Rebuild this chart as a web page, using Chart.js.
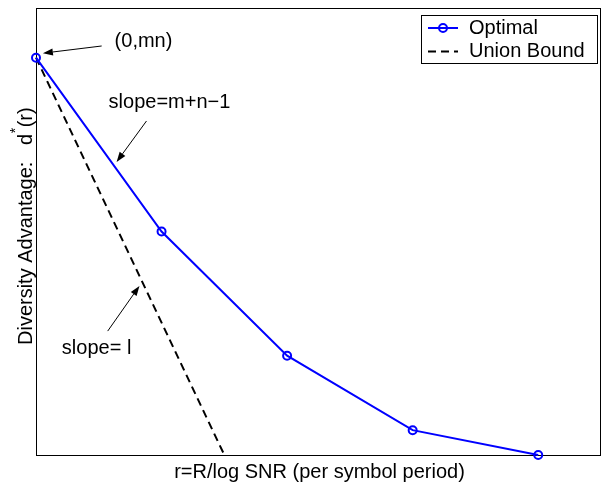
<!DOCTYPE html>
<html>
<head>
<meta charset="utf-8">
<script src="https://cdn.jsdelivr.net/npm/chart.js@4"></script>
<style>
  html, body { margin: 0; padding: 0; background: #fff; }
  canvas { display: block; }
</style>
</head>
<body>
<canvas id="c" width="607" height="483"></canvas>
<script>
// ---- data ----
const rValues = [0, 1, 2, 3, 4];
const optimalValues = [16, 9, 4, 1, 0];
const unionR = [0, 1.5];
const unionValues = [16, 0];
const seriesNames = ['Optimal', 'Union Bound'];
const xTitle = 'r=R/log SNR (per symbol period)';
const yTitleMain = 'Diversity Advantage:   d';
const yTitleSup = '*';
const yTitleTail = '(r)';
// annotation texts at data coords [x, y, text]
const noteTexts = [
  [0.626, 16.43, '(0,mn)'],
  [0.578, 13.97, 'slope=m+n\u22121'],
  [0.206, 4.07, 'slope= l']
];
// arrows in data coords [x0, y0, x1(head), y1(head)]
const noteArrows = [
  [0.523, 16.47, 0.055, 16.18],
  [0.880, 13.45, 0.642, 11.80],
  [0.571, 4.99, 0.824, 6.81]
];

const FONT = '"Liberation Sans", Arial, Helvetica, sans-serif';

function arrow(ctx, x0, y0, x1, y1) {
  const ang = Math.atan2(y1 - y0, x1 - x0);
  const L = 10, W = 3.5;
  const bx = x1 - L * Math.cos(ang), by = y1 - L * Math.sin(ang);
  ctx.beginPath();
  ctx.moveTo(x0, y0);
  ctx.lineTo(bx, by);
  ctx.stroke();
  ctx.beginPath();
  ctx.moveTo(x1, y1);
  ctx.lineTo(bx + W * Math.sin(ang), by - W * Math.cos(ang));
  ctx.lineTo(bx - W * Math.sin(ang), by + W * Math.cos(ang));
  ctx.closePath();
  ctx.fill();
}

const decor = {
  id: 'decor',
  beforeDatasetsDraw(chart) {
    const { ctx, chartArea: a } = chart;
    ctx.save();
    ctx.strokeStyle = '#000';
    ctx.lineWidth = 1;
    ctx.strokeRect(Math.round(a.left) + 0.5, Math.round(a.top) + 0.5,
                   Math.round(a.right - a.left) - 1, Math.round(a.bottom - a.top));
    ctx.restore();
  },
  afterDraw(chart) {
    const { ctx, chartArea: a, scales } = chart;
    const xs = scales.x, ys = scales.y;
    ctx.save();
    ctx.fillStyle = '#000';
    ctx.strokeStyle = '#000';
    // annotations
    ctx.font = '20px ' + FONT;
    ctx.textBaseline = 'alphabetic';
    ctx.textAlign = 'left';
    noteTexts.forEach(t => ctx.fillText(t[2], xs.getPixelForValue(t[0]), ys.getPixelForValue(t[1])));
    ctx.lineWidth = 1;
    noteArrows.forEach(r => arrow(ctx,
      xs.getPixelForValue(r[0]), ys.getPixelForValue(r[1]),
      xs.getPixelForValue(r[2]), ys.getPixelForValue(r[3])));
    // x title
    ctx.textAlign = 'center';
    ctx.fillText(xTitle, (a.left + a.right) / 2 + 1, a.bottom + 23);
    // y title (rotated, with superscript)
    ctx.save();
    ctx.translate(31.5, 345);
    ctx.rotate(-Math.PI / 2);
    ctx.textAlign = 'left';
    ctx.font = '20px ' + FONT;
    ctx.fillText(yTitleMain, 0, 0);
    let w = ctx.measureText(yTitleMain).width;
    ctx.font = '14px ' + FONT;
    ctx.fillText(yTitleSup, w + 0.5, -12);
    w += ctx.measureText(yTitleSup).width + 1;
    ctx.font = '20px ' + FONT;
    ctx.fillText(yTitleTail, w, 0);
    ctx.restore();
    // legend
    const lx = 421, ly = 15, lw = 176, lh = 48;
    ctx.fillStyle = '#fff';
    ctx.fillRect(lx, ly, lw, lh);
    ctx.strokeStyle = '#000';
    ctx.lineWidth = 1;
    ctx.strokeRect(lx + 0.5, ly + 0.5, lw, lh);
    const rows = [28, 51.5];
    chart.data.datasets.forEach((ds, i) => {
      const y = rows[i];
      ctx.save();
      ctx.strokeStyle = ds.borderColor;
      ctx.lineWidth = ds.borderWidth;
      ctx.setLineDash(ds.borderDash || []);
      ctx.beginPath();
      ctx.moveTo(428, y);
      ctx.lineTo(458, y);
      ctx.stroke();
      ctx.setLineDash([]);
      if (ds.pointRadius > 0) {
        ctx.lineWidth = ds.pointBorderWidth;
        ctx.strokeStyle = ds.pointBorderColor;
        ctx.beginPath();
        ctx.arc(443, y, ds.pointRadius, 0, Math.PI * 2);
        ctx.stroke();
      }
      ctx.restore();
      ctx.fillStyle = '#000';
      ctx.font = '20px ' + FONT;
      ctx.textAlign = 'left';
      ctx.fillText(ds.label, 469, y + 5.5);
    });
    ctx.restore();
  }
};

new Chart(document.getElementById('c'), {
  type: 'scatter',
  data: {
    datasets: [
      {
        label: seriesNames[0],
        data: rValues.map((r, i) => ({ x: r, y: optimalValues[i] })),
        showLine: true,
        borderColor: '#0000ff',
        borderWidth: 2,
        pointRadius: 4,
        pointBorderWidth: 2,
        pointBorderColor: '#0000ff',
        pointBackgroundColor: 'rgba(0,0,0,0)',
        pointStyle: 'circle',
        clip: false,
        order: 0
      },
      {
        label: seriesNames[1],
        data: unionR.map((r, i) => ({ x: r, y: unionValues[i] })),
        showLine: true,
        borderColor: '#000000',
        borderWidth: 2,
        borderDash: [8, 5],
        pointRadius: 0,
        clip: false,
        order: 1
      }
    ]
  },
  options: {
    responsive: false,
    animation: false,
    devicePixelRatio: 1,
    layout: { padding: { left: 36, right: 3, top: 8, bottom: 28 } },
    plugins: { legend: { display: false }, tooltip: { enabled: false } },
    scales: {
      x: { type: 'linear', min: 0, max: 4.5, display: false },
      y: { type: 'linear', min: 0, max: 18, display: false }
    }
  },
  plugins: [decor]
});
</script>
</body>
</html>
